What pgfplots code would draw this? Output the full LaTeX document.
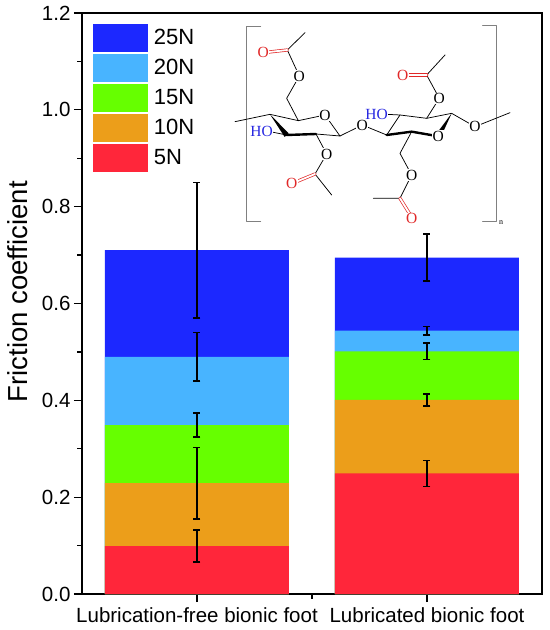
\documentclass[border=0pt]{standalone}
\usepackage{fontspec}
\setmainfont{Liberation Sans}
\newfontfamily\chemfont{Liberation Serif}
\usepackage{pgfplots}
\pgfplotsset{compat=1.18}
\definecolor{c25}{RGB}{28,40,255}
\definecolor{c20}{RGB}{72,180,255}
\definecolor{c15}{RGB}{102,255,0}
\definecolor{c10}{RGB}{236,158,26}
\definecolor{c5}{RGB}{255,38,58}
\definecolor{chemred}{RGB}{225,40,40}
\definecolor{chemblue}{RGB}{40,40,225}
\pgfplotsset{
  myerr/.style={error bars/.cd, y dir=both, y explicit,
    error bar style={line width=1.5pt, black},
    error mark options={rotate=90, black, mark size=3.5pt, line width=1.5pt}}
}
\pgfplotstableread{
x y e
1 0.710 0.140
2 0.695 0.049
}\tabA
\pgfplotstableread{
x y e
1 0.490 0.050
2 0.544 0.009
}\tabB
\pgfplotstableread{
x y e
1 0.349 0.025
2 0.501 0.017
}\tabC
\pgfplotstableread{
x y e
1 0.229 0.074
2 0.401 0.0125
}\tabD
\pgfplotstableread{
x y e
1 0.099 0.033
2 0.249 0.027
}\tabE
\begin{document}
\begin{tikzpicture}
\begin{axis}[
  name=ax,
  width=460pt, height=581pt, scale only axis,
  xmin=0.5, xmax=2.5, ymin=0, ymax=1.2,
  xtick={1,2},
  xticklabels={Lubrication-free bionic foot, Lubricated bionic foot},
  minor xtick={1.5},
  ytick={0,0.2,0.4,0.6,0.8,1.0,1.2},
  minor ytick={0.1,0.3,0.5,0.7,0.9,1.1},
  tick align=outside, xtick pos=bottom, ytick pos=left,
  major tick length=8pt, minor tick length=4.5pt,
  every tick/.style={black, line width=1.3pt},
  axis line style={line width=1.4pt},
  /pgf/number format/assume math mode=true,
  yticklabel style={/pgf/number format/.cd, fixed, fixed zerofill, precision=1},
  tick label style={font=\fontsize{20.5}{24}\selectfont},
  xticklabel style={yshift=-2pt},
  ylabel={Friction coefficient},
  every axis y label/.style={at={(axis description cs:-0.139,0.52)}, rotate=90, anchor=center, font=\fontsize{27.5}{30}\selectfont},
  ybar, bar width=0.8, bar shift=0pt,
  legend style={at={(axis description cs:0,1)}, anchor=north west,
    xshift=11pt, yshift=-11pt, draw=none, fill=none, inner sep=0pt, outer sep=0pt,
    row sep=2pt, column sep=4pt, font=\fontsize{22}{24}\selectfont,
    nodes={font=\fontsize{22}{24}\selectfont}},
  legend cell align=left,
  legend image code/.code={\fill[#1] (0pt,-14pt) rectangle (55pt,14pt);},
]
\addplot[fill=c25, draw=none, myerr] table[x=x, y=y, y error=e] {\tabA};
\addlegendentry{25N}
\addplot[fill=c20, draw=none, myerr] table[x=x, y=y, y error=e] {\tabB};
\addlegendentry{20N}
\addplot[fill=c15, draw=none, myerr] table[x=x, y=y, y error=e] {\tabC};
\addlegendentry{15N}
\addplot[fill=c10, draw=none, myerr] table[x=x, y=y, y error=e] {\tabD};
\addlegendentry{10N}
\addplot[fill=c5, draw=none, myerr] table[x=x, y=y, y error=e] {\tabE};
\addlegendentry{5N}
\end{axis}
% chemical structure (decoration)
\begin{scope}[shift={(148pt,594pt)}, x=0.33333pt, y=-0.33333pt, line width=0.75pt, line cap=round, line join=round]
  \draw[gray, line width=0.9pt] (92,80)--(50,80)--(50,665)--(92,665);
  \draw[gray, line width=0.9pt] (758,75)--(800,75)--(800,665)--(758,665);
  \node[font=\chemfont\fontsize{8}{8}\selectfont, anchor=west, inner sep=1pt] at (803,668) {n};
  % left ring
  \draw (15,365)--(120,343)--(205,362)--(285,345)--(330,408)--(258,402);
  \draw[line width=2.4pt] (258,402)--(170,405);
  \fill (120,343)--(164,411)--(176,400)--cycle;
  \draw (170,405)--(125,396);
  \draw (205,362)--(170,295)--(208,228)--(172,150)--(225,98);
  \draw[chemred, double, double distance=1.8pt, line width=0.7pt] (172,150)--(108,157);
  \draw (258,402)--(290,462)--(255,522)--(305,585);
  \draw[chemred, double, double distance=1.8pt, line width=0.7pt] (255,522)--(192,548);
  % glycosidic
  \draw (330,408)--(397,375)--(470,405);
  % right ring
  \draw (470,405)--(510,345)--(590,355)--(665,340);
  \fill (665,340)--(618,403)--(632,412)--cycle;
  \draw[line width=2.4pt] (620,408)--(545,395)--(470,405);
  \draw (510,345)--(470,343);
  \draw (590,355)--(628,295)--(590,225)--(645,165);
  \draw[chemred, double, double distance=1.8pt, line width=0.7pt] (590,225)--(525,225);
  \draw (545,395)--(510,460)--(545,525)--(510,595)--(430,595);
  \draw[chemred, double, double distance=1.8pt, line width=0.7pt] (510,595)--(543,648);
  \draw (665,340)--(735,380)--(840,338);
  \tikzset{atom/.style={fill=white, inner sep=0.5pt, font=\chemfont\fontsize{15.5}{15.5}\selectfont}}
  \foreach \p in {(285,345),(208,228),(290,462),(397,375),(625,408),(628,295),(545,525),(735,380)}
    \node[atom] at \p {O};
  \foreach \p in {(100,158),(185,550),(518,225),(545,655)}
    \node[atom, text=chemred] at \p {O};
  \node[atom, text=chemblue] at (95,393) {HO};
  \node[atom, text=chemblue] at (440,342) {HO};
\end{scope}
\pgfresetboundingbox
\path[use as bounding box] ([xshift=-82pt,yshift=-36pt]ax.south west) rectangle ([xshift=8pt,yshift=13pt]ax.north east);
\end{tikzpicture}
\end{document}
